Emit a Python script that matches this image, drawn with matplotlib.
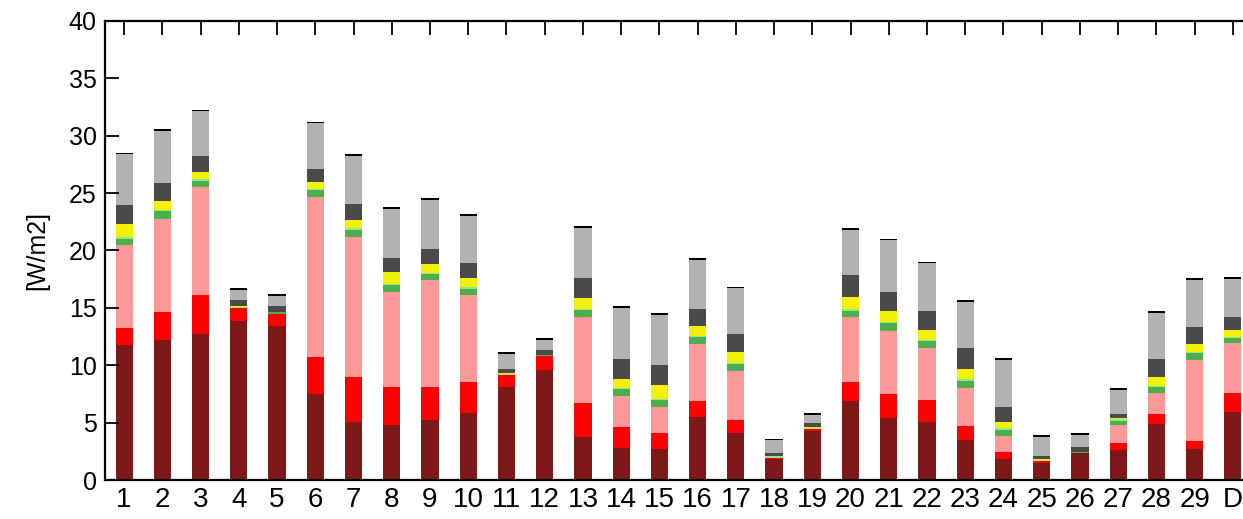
import numpy as np
import matplotlib
matplotlib.use("Agg")
import matplotlib.pyplot as plt

plt.rcParams['font.family'] = ['Liberation Sans', 'DejaVu Sans']

labels = [str(i) for i in range(1, 30)] + ["D"]

# cumulative top of each layer
top_darkred = [11.76, 12.17, 12.75, 13.83, 13.45, 7.46, 5.08, 4.79, 5.23, 5.84,
               8.10, 9.56, 3.78, 2.82, 2.67, 5.52, 4.12, 1.80, 4.27, 6.91,
               5.43, 5.08, 3.49, 1.83, 1.45, 2.32, 2.61, 4.85, 2.70, 5.96]
top_red = [13.27, 14.64, 16.09, 15.02, 14.47, 10.75, 8.95, 8.13, 8.13, 8.54,
           9.12, 10.80, 6.74, 4.65, 4.07, 6.88, 5.23, 1.97, 4.50, 8.57,
           7.46, 6.97, 4.74, 2.41, 1.66, 2.38, 3.25, 5.72, 3.43, 7.55]
top_pink = [20.48, 22.74, 25.56, 15.02, 14.47, 24.69, 21.20, 16.41, 17.43, 16.12,
            9.15, 10.80, 14.20, 7.35, 6.39, 11.88, 9.53, 2.00, 4.50, 14.23,
            13.01, 11.50, 8.05, 3.86, 1.74, 2.38, 4.79, 7.55, 10.46, 11.97]
top_green = [21.15, 23.53, 26.20, 15.10, 14.61, 25.36, 21.93, 17.08, 18.07, 16.79,
             9.25, 10.89, 14.90, 8.02, 7.09, 12.58, 10.22, 2.05, 4.56, 14.87,
             13.77, 12.20, 8.77, 4.50, 1.78, 2.44, 5.28, 8.22, 11.15, 12.49]
top_yellow = [22.28, 24.31, 26.87, 15.15, 14.61, 26.00, 22.66, 18.15, 18.82, 17.60,
              9.32, 10.89, 15.89, 8.80, 8.25, 13.45, 11.18, 2.09, 4.60, 15.97,
              14.73, 13.07, 9.70, 5.08, 1.86, 2.44, 5.43, 9.00, 11.85, 13.07]
top_darkgray = [23.94, 25.91, 28.26, 15.69, 15.13, 27.07, 24.02, 19.35, 20.16, 18.88,
                9.64, 11.30, 17.60, 10.58, 9.99, 14.93, 12.69, 2.38, 4.94, 17.86,
                16.38, 14.70, 11.50, 6.39, 2.12, 2.90, 5.72, 10.52, 13.36, 14.23]
top_lightgray = [28.47, 30.50, 32.20, 16.62, 16.12, 31.17, 28.32, 23.73, 24.52, 23.09,
                 11.07, 12.29, 22.05, 15.05, 14.47, 19.26, 16.79, 3.54, 5.78, 21.85,
                 20.97, 18.97, 15.60, 10.52, 3.83, 4.01, 7.93, 14.64, 17.55, 17.63]

layers = [
    (top_darkred, "#7f1919"),
    (top_red, "#ff0000"),
    (top_pink, "#ff9999"),
    (top_green, "#4caf4c"),
    (top_yellow, "#f2f200"),
    (top_darkgray, "#4a4a4a"),
    (top_lightgray, "#b2b2b2"),
]

x = np.arange(1, len(labels) + 1)
width = 0.45

fig = plt.figure(figsize=(12.43, 5.19), dpi=100)
# axes runs a little past the right edge, as in the original crop
ax = fig.add_axes([105 / 1243, 39 / 519, 1147 / 1243, 459 / 519])

bottom = np.zeros(len(x))
for tops, color in layers:
    tops = np.array(tops)
    ax.bar(x, tops - bottom, width, bottom=bottom, color=color, linewidth=0)
    bottom = tops

# thin light green band on top of the green layer
green = np.array(top_green)
has_band = np.array(top_yellow) > green
ax.bar(x[has_band], 0.12, width, bottom=green[has_band] - 0.12,
       color="#8fe88f", linewidth=0)

# black cap at the top of every bar
ax.bar(x, 0.15, width, bottom=np.array(top_lightgray) - 0.08,
       color="black", linewidth=0)

ax.set_xlim(0.5, len(x) + 0.5)
ax.set_ylim(0, 40)
ax.set_yticks(np.arange(0, 41, 5))
ax.set_xticks(x)
ax.set_xticklabels(labels)
ax.tick_params(axis="x", bottom=False, top=True, direction="in", length=10,
               width=1.3, labelsize=20, pad=5)
ax.tick_params(axis="y", left=True, right=False, direction="in", length=10,
               width=1.3, labelsize=18, pad=6)
for sp in ax.spines.values():
    sp.set_linewidth(1.6)
ax.set_ylabel("[W/m2]", fontsize=18, labelpad=14)

fig.savefig("out.png", dpi=100)
